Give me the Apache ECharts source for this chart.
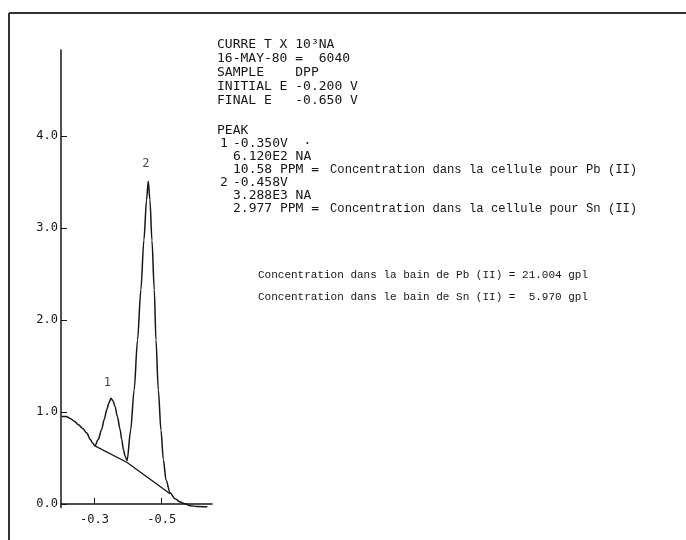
<!DOCTYPE html>
<html>
<head>
<meta charset="utf-8">
<script src="https://cdn.jsdelivr.net/npm/echarts@6/dist/echarts.min.js"></script>
<style>
  html, body { margin: 0; padding: 0; background: #fff; }
  #main { width: 686px; height: 540px; }
</style>
</head>
<body>
<div id="main"></div>
<script>
// polarogram (DPP) - potential in V, current x 10^3 nA
const potential = [-0.202, -0.215, -0.227, -0.240, -0.252, -0.265, -0.277, -0.287, -0.295, -0.301,
  -0.311, -0.321, -0.329, -0.336, -0.343, -0.349, -0.355, -0.361, -0.368, -0.376, -0.381, -0.386, -0.391, -0.397,
  -0.4075, -0.418, -0.428, -0.438, -0.447, -0.455, -0.460, -0.465, -0.471, -0.478, -0.483, -0.490, -0.498,
  -0.505, -0.513, -0.525, -0.540, -0.555, -0.570, -0.585, -0.605, -0.636];
const current = [0.95, 0.95, 0.93, 0.90, 0.86, 0.82, 0.77, 0.70, 0.66, 0.63,
  0.70, 0.81, 0.92, 1.02, 1.10, 1.15, 1.12, 1.06, 0.95, 0.81, 0.70, 0.59, 0.52, 0.47,
  0.80, 1.24, 1.78, 2.33, 2.87, 3.31, 3.51, 3.31, 2.87, 2.33, 1.78, 1.24, 0.80,
  0.48, 0.26, 0.12, 0.055, 0.02, 0.0, -0.02, -0.03, -0.033];

// tangent baseline under the two peaks
const baseX = [-0.301, -0.397, -0.525];
const baseY = [0.63, 0.45, 0.11];

const peakNames = ['1', '2'];
const peakLabelX = [-0.338, -0.453];
const peakLabelY = [1.32, 3.70];

const yTicks = [0, 1, 2, 3, 4];
const xTicks = [-0.3, -0.5];

const headerLines = [
  'CURRE T X 10³NA',
  '16-MAY-80 =  6040',
  'SAMPLE    DPP',
  'INITIAL E -0.200 V',
  'FINAL E   -0.650 V'
];
const peakNums = ['1', '', '', '2', '', ''];
const peakValues = ['-0.350V  ·', '6.120E2 NA', '10.58 PPM =', '-0.458V', '3.288E3 NA', '2.977 PPM ='];
const cellNotes = ['Concentration dans la cellule pour Pb (II)', 'Concentration dans la cellule pour Sn (II)'];
const bathLines = [
  'Concentration dans la bain de Pb (II) = 21.004 gpl',
  'Concentration dans le bain de Sn (II) =  5.970 gpl'
];

const ink = '#161616';
const mono = '"DejaVu Sans Mono", monospace';
const typewriter = '"Liberation Mono", "Courier New", monospace';

let chart = echarts.init(document.getElementById('main'));

let graphics = [
  // frame of the plotter sheet
  { type: 'line', shape: { x1: 9, y1: 13, x2: 686, y2: 13 }, style: { stroke: '#333', lineWidth: 2 } },
  { type: 'line', shape: { x1: 9, y1: 13, x2: 9, y2: 540 }, style: { stroke: '#333', lineWidth: 2 } }
];
headerLines.forEach((t, i) => {
  graphics.push({ type: 'text', left: 217, top: 38 + i * 14,
    style: { text: t, font: '13px ' + mono, fill: ink } });
});
graphics.push({ type: 'text', left: 217, top: 124, style: { text: 'PEAK', font: '13px ' + mono, fill: ink } });
peakValues.forEach((t, i) => {
  if (peakNums[i]) {
    graphics.push({ type: 'text', left: 220, top: 137 + i * 13,
      style: { text: peakNums[i], font: '13px ' + mono, fill: ink } });
  }
  graphics.push({ type: 'text', left: 233, top: 137 + i * 13,
    style: { text: t, font: '13px ' + mono, fill: ink } });
});
cellNotes.forEach((t, i) => {
  graphics.push({ type: 'text', left: 330, top: 164 + i * 39,
    style: { text: t, font: '12.2px ' + typewriter, fill: ink } });
});
bathLines.forEach((t, i) => {
  graphics.push({ type: 'text', left: 258, top: 270 + i * 22,
    style: { text: t, font: '11px ' + typewriter, fill: ink } });
});

let option = {
  backgroundColor: '#fff',
  animation: false,
  grid: { left: 61, right: 474, top: 50, bottom: 32.5 },
  xAxis: {
    type: 'value',
    min: -0.65,
    max: -0.2,
    inverse: true,
    axisLine: { lineStyle: { color: ink, width: 1.5 } },
    axisTick: { show: true, inside: true, length: 6, customValues: xTicks, lineStyle: { color: ink } },
    axisLabel: { customValues: xTicks, formatter: v => v.toFixed(1), color: ink,
      fontFamily: mono, fontSize: 12, margin: 6 },
    splitLine: { show: false }
  },
  yAxis: {
    type: 'value',
    min: -0.04,
    max: 4.94,
    axisLine: { show: true, lineStyle: { color: ink, width: 1.5 } },
    axisTick: { show: true, inside: true, length: 6, customValues: yTicks, lineStyle: { color: ink } },
    axisLabel: { customValues: yTicks, formatter: v => v.toFixed(1), color: ink,
      fontFamily: mono, fontSize: 12, margin: 3 },
    splitLine: { show: false }
  },
  series: [
    {
      type: 'line',
      data: potential.map((x, i) => [x, current[i]]),
      showSymbol: false,
      smooth: 0.3,
      smoothMonotone: 'x',
      lineStyle: { color: ink, width: 1.5 }
    },
    {
      type: 'line',
      data: baseX.map((x, i) => [x, baseY[i]]),
      showSymbol: false,
      lineStyle: { color: ink, width: 1.3 }
    },
    {
      type: 'scatter',
      symbolSize: 0,
      data: peakNames.map((n, i) => ({ name: n, value: [peakLabelX[i], peakLabelY[i]] })),
      label: { show: true, position: 'inside', formatter: '{b}', color: ink,
        fontFamily: mono, fontSize: 12 }
    }
  ],
  graphic: graphics
};

chart.setOption(option);
</script>
</body>
</html>
